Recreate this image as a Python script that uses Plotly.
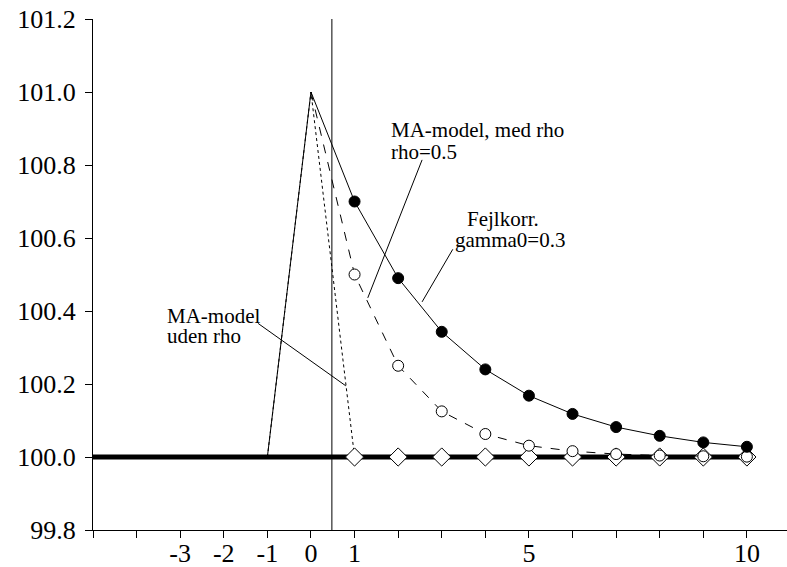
import plotly.graph_objects as go

# ---- data ----
periods = [-1, 0, 1, 2, 3, 4, 5, 6, 7, 8, 9, 10]
fejlkorr = [100.0, 101.0, 100.70, 100.49, 100.343, 100.240, 100.168, 100.118, 100.082, 100.058, 100.040, 100.028]
ma_med_rho = [100.0, 101.0, 100.50, 100.25, 100.125, 100.063, 100.031, 100.016, 100.008, 100.004, 100.002, 100.001]
ma_uden_rho = [100.0, 101.0, 100.0, 100.0, 100.0, 100.0, 100.0, 100.0, 100.0, 100.0, 100.0, 100.0]
basis_x = [-5, 10]
basis_y = [100.0, 100.0]
shock_line_x = 0.48

x_tickvals = list(range(-5, 11))
x_ticklabels = {-3: "-3", -2: "-2", -1: "-1", 0: "0", 1: "1", 5: "5", 10: "10"}
y_tickvals = [99.8, 100.0, 100.2, 100.4, 100.6, 100.8, 101.0, 101.2]

FONT = "'Liberation Serif', 'Times New Roman', Times, serif"
X_RANGE = [-5, 10.92]

fig = go.Figure()

fig.add_trace(go.Scatter(x=basis_x, y=basis_y, mode="lines",
                         line=dict(color="black", width=5), showlegend=False, hoverinfo="skip"))

# MA-model uden rho: dotted line, diamonds
fig.add_trace(go.Scatter(x=periods[:3], y=ma_uden_rho[:3], mode="lines",
                         line=dict(color="black", width=1, dash="dot"), showlegend=False))
fig.add_trace(go.Scatter(x=periods[2:], y=ma_uden_rho[2:], mode="markers",
                         marker=dict(symbol="diamond", size=14, color="white",
                                     line=dict(color="black", width=1)), showlegend=False))

# MA-model med rho: dashed line, open circles
fig.add_trace(go.Scatter(x=periods[1:], y=ma_med_rho[1:], mode="lines",
                         line=dict(color="black", width=1, dash="dash"), showlegend=False))
fig.add_trace(go.Scatter(x=periods[2:], y=ma_med_rho[2:], mode="markers",
                         marker=dict(symbol="circle", size=11, color="white",
                                     line=dict(color="black", width=1)), showlegend=False))

# Fejlkorr: solid line, filled circles
fig.add_trace(go.Scatter(x=periods, y=fejlkorr, mode="lines",
                         line=dict(color="black", width=1), showlegend=False))
fig.add_trace(go.Scatter(x=periods[2:], y=fejlkorr[2:], mode="markers",
                         marker=dict(symbol="circle", size=11, color="black",
                                     line=dict(color="black", width=1)), showlegend=False))

# vertical line
fig.add_shape(type="line", xref="x", yref="paper", x0=shock_line_x, x1=shock_line_x, y0=0, y1=1,
              line=dict(color="black", width=1))

# leader lines
leaders = [
    (2.549, 100.814, 1.303, 100.436),
    (3.253, 100.569, 2.549, 100.425),
    (-1.213, 100.366, 0.799, 100.195),
]
for x0, y0, x1, y1 in leaders:
    fig.add_shape(type="line", xref="x", yref="y", x0=x0, y0=y0, x1=x1, y1=y1,
                  line=dict(color="black", width=1))

labels = [
    ("MA-model, med rho", 1.80, 100.896),
    ("rho=0.5", 1.80, 100.836),
    ("Fejlkorr.", 3.528, 100.652),
    ("gamma0=0.3", 3.253, 100.595),
    ("MA-model", -3.353, 100.386),
    ("uden rho", -3.353, 100.3315),
]
for txt, x, y in labels:
    fig.add_annotation(x=x, y=y, text=txt, showarrow=False, xanchor="left", yanchor="middle",
                       font=dict(family=FONT, size=21, color="black"))

# main x axis: labels only (no tick marks, so labels sit close to the axis)
fig.update_xaxes(range=X_RANGE, tickmode="array", tickvals=x_tickvals,
                 ticktext=[x_ticklabels.get(v, "") for v in x_tickvals],
                 ticks="", showline=True, linecolor="black", linewidth=1,
                 showgrid=False, zeroline=False, automargin=False,
                 tickfont=dict(family=FONT, size=26, color="black"))
# overlay x axis: tick marks only
fig.update_layout(xaxis2=dict(overlaying="x", side="bottom", anchor="y", range=X_RANGE,
                              tickmode="array", tickvals=x_tickvals, showticklabels=False,
                              ticks="outside", ticklen=7, tickcolor="black", tickwidth=1,
                              showline=False, showgrid=False, zeroline=False, automargin=False))
fig.add_trace(go.Scatter(x=[None], y=[None], xaxis="x2", yaxis="y", showlegend=False,
                         hoverinfo="skip"))

fig.update_yaxes(range=[99.8, 101.2], tickmode="array", tickvals=y_tickvals,
                 ticktext=[f"{v:.1f}" for v in y_tickvals],
                 ticks="outside", ticklen=7, tickcolor="black", tickwidth=1,
                 showline=True, linecolor="black", linewidth=1,
                 showgrid=False, zeroline=False, automargin=False,
                 ticklabelstandoff=4,
                 tickfont=dict(family=FONT, size=26, color="black"))

fig.update_layout(width=787, height=567, margin=dict(l=93, r=0, t=19, b=37),
                  plot_bgcolor="white", paper_bgcolor="white", showlegend=False)

fig.write_html("out.html", config={"displayModeBar": False},
               post_script="document.body.style.margin='0';")
